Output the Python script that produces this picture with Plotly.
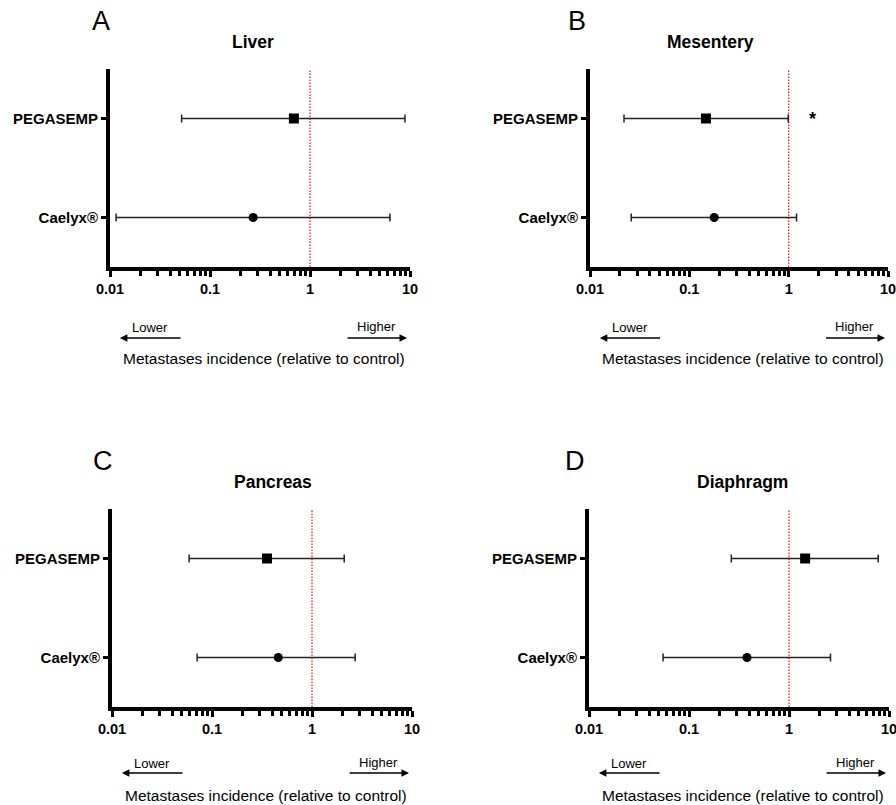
import plotly.graph_objects as go

# ---------------- data ----------------
categories = ["Caelyx®", "PEGASEMP"]
symbols = ["circle", "square"]
panel_letters = ["A", "B", "C", "D"]
panel_titles = ["Liver", "Mesentery", "Pancreas", "Diaphragm"]

# order within each list: [Caelyx®, PEGASEMP]
liver_est = [0.27, 0.69]
liver_lo = [0.0115, 0.052]
liver_hi = [6.3, 8.9]

mesentery_est = [0.178, 0.147]
mesentery_lo = [0.026, 0.022]
mesentery_hi = [1.2, 0.99]

pancreas_est = [0.46, 0.355]
pancreas_lo = [0.071, 0.059]
pancreas_hi = [2.7, 2.1]

diaphragm_est = [0.38, 1.45]
diaphragm_lo = [0.055, 0.265]
diaphragm_hi = [2.6, 7.8]

major_ticks = [0.01, 0.1, 1, 10]
major_labels = ["0.01", "0.1", "1", "10"]
minor_ticks = [m * d for d in (0.01, 0.1, 1) for m in range(2, 10)]
reference_value = 1
xlabel = "Metastases incidence (relative to control)"

panels = [
    (liver_est, liver_lo, liver_hi),
    (mesentery_est, mesentery_lo, mesentery_hi),
    (pancreas_est, pancreas_lo, pancreas_hi),
    (diaphragm_est, diaphragm_lo, diaphragm_hi),
]

# ---------------- layout geometry ----------------
W, H = 896, 805
# (left, right, top, bottom) in pixels
boxes = [(110, 410, 69, 267), (590, 888, 69, 267),
         (112, 412, 509, 707), (589, 889, 509, 707)]
title_x = [0.477, 0.403, 0.537, 0.513]
letter_x = [-0.03, -0.044, -0.03, -0.047]
# vertical offsets (domain fraction) of: Lower text, Higher text, arrows, x label
below_top = (-0.308, -0.298, -0.358, -0.46)
below_bottom = (-0.283, -0.278, -0.333, -0.445)

FONT = "Liberation Sans, Arial, sans-serif"

fig = go.Figure()
layout = dict(template="none", width=W, height=H, margin=dict(l=0, r=0, t=0, b=0, pad=0),
              plot_bgcolor="white", paper_bgcolor="white", showlegend=False)
annotations = []
shapes = []

for i, ((est, lo, hi), box) in enumerate(zip(panels, boxes)):
    n = "" if i == 0 else str(i + 1)
    xa, ya = "x" + n, "y" + n
    plus = [h - e for h, e in zip(hi, est)]
    minus = [e - l for e, l in zip(est, lo)]
    fig.add_trace(go.Scatter(
        x=est, y=categories, mode="markers", xaxis=xa, yaxis=ya,
        marker=dict(symbol=symbols, size=[9, 10], color="black", opacity=1,
                    line=dict(width=0)),
        error_x=dict(type="data", array=plus, arrayminus=minus, symmetric=False,
                     color="#222222", thickness=1.5, width=4),
        hoverinfo="skip"))
    l, r, t, b = box
    layout["xaxis" + n] = dict(
        type="log", range=[-2, 1], domain=[l / W, r / W], anchor=ya, automargin=False,
        tickmode="array", tickvals=major_ticks, ticktext=major_labels,
        ticklabeloverflow="allow",
        ticks="outside", ticklen=6, tickwidth=3, tickcolor="black",
        showline=True, linewidth=4, linecolor="black", showgrid=False, zeroline=False,
        tickfont=dict(family=FONT, size=14.5, color="black", weight="bold"),
        minor=dict(tickmode="array", tickvals=minor_ticks, ticks="outside",
                   ticklen=5, tickwidth=3, tickcolor="black", showgrid=False),
        fixedrange=True)
    layout["yaxis" + n] = dict(
        type="category", categoryorder="array", categoryarray=categories,
        range=[-0.5, 1.5], domain=[1 - b / H, 1 - t / H], anchor=xa, automargin=False,
        ticks="outside", ticklen=5, tickwidth=3, tickcolor="black",
        ticklabeloverflow="allow",
        showline=True, linewidth=4, linecolor="black", showgrid=False, zeroline=False,
        tickfont=dict(family=FONT, size=15, color="black", weight="bold"),
        fixedrange=True)
    xd, yd = xa + " domain", ya + " domain"
    shapes.append(dict(type="line", xref=xa, yref=yd, x0=reference_value,
                       x1=reference_value, y0=0, y1=1, layer="below",
                       line=dict(color="#ff1a1a", width=1.3, dash="1.5px,1.5px")))
    txt = dict(xref=xd, yref=yd, showarrow=False, xanchor="center", yanchor="middle")
    low_y, high_y, arr_y, lab_y = below_top if i < 2 else below_bottom
    # panel letter and title
    annotations.append(dict(txt, x=letter_x[i], y=1.24, text=panel_letters[i],
                            font=dict(family=FONT, size=27, color="black")))
    annotations.append(dict(txt, x=title_x[i], y=1.136, text=panel_titles[i],
                            font=dict(family=FONT, size=17.5, color="black", weight="bold")))
    # direction arrows
    annotations.append(dict(xref=xd, yref=yd, x=0.033, y=arr_y, axref=xd, ayref=yd,
                            ax=0.24, ay=arr_y, text="", showarrow=True, arrowhead=2,
                            arrowsize=1, arrowwidth=1.5, arrowcolor="black"))
    annotations.append(dict(xref=xd, yref=yd, x=0.99, y=arr_y, axref=xd, ayref=yd,
                            ax=0.787, ay=arr_y, text="", showarrow=True, arrowhead=2,
                            arrowsize=1, arrowwidth=1.5, arrowcolor="black"))
    annotations.append(dict(txt, x=0.133, y=low_y, text="Lower",
                            font=dict(family=FONT, size=13, color="black")))
    annotations.append(dict(txt, x=0.887, y=high_y, text="Higher",
                            font=dict(family=FONT, size=13, color="black")))
    annotations.append(dict(txt, x=0.513, y=lab_y, text=xlabel,
                            font=dict(family=FONT, size=15.5, color="black")))

# significance mark (Mesentery, PEGASEMP)
annotations.append(dict(xref="x2 domain", yref="y2", x=0.745, y=1, text="*",
                        showarrow=False, xanchor="center", yanchor="middle",
                        font=dict(family=FONT, size=18, color="black", weight="bold")))

layout["annotations"] = annotations
layout["shapes"] = shapes
fig.update_layout(**layout)
fig.write_html("out.html")
